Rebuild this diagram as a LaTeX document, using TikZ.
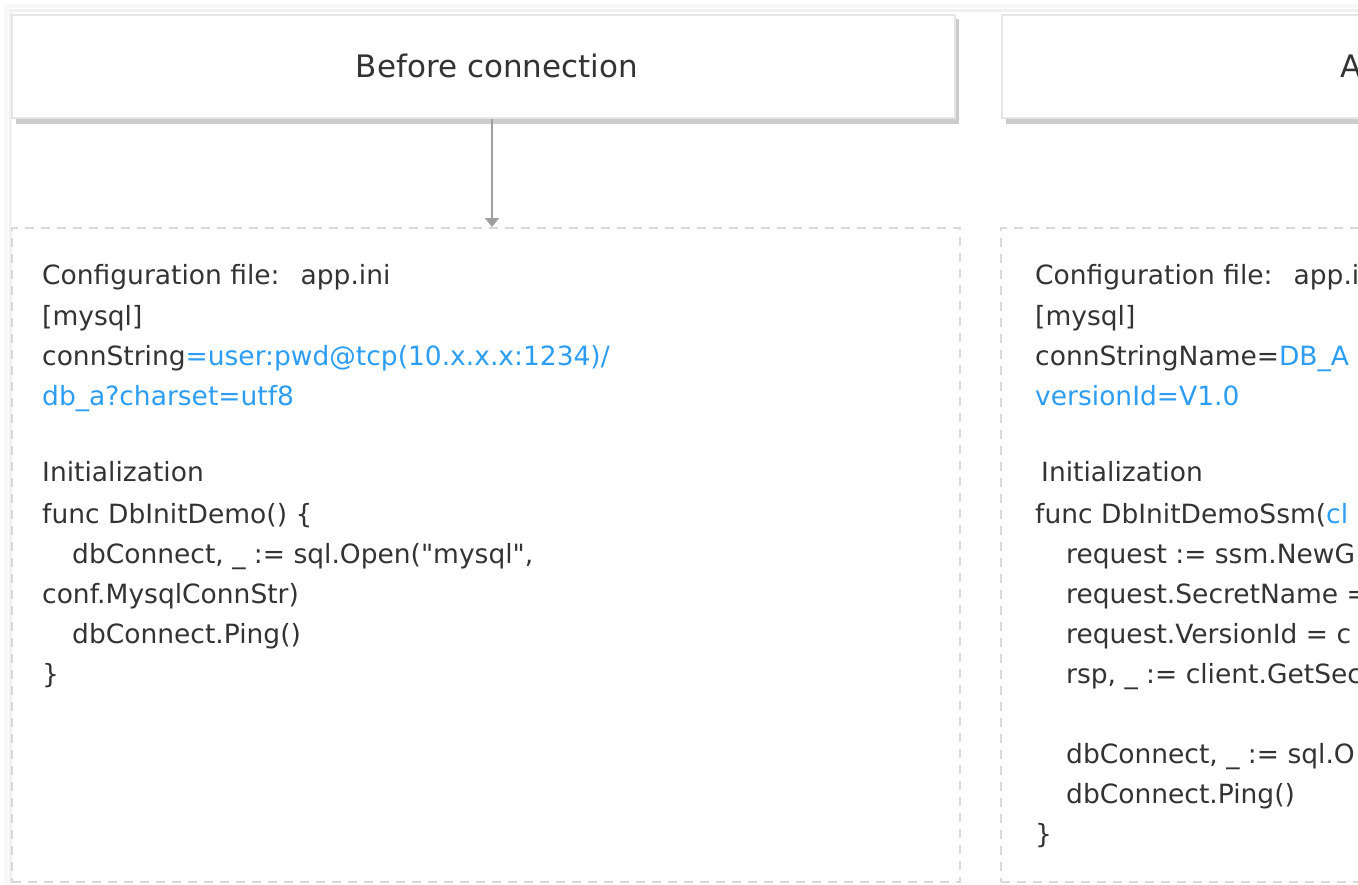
\documentclass[tikz,border=0pt]{standalone}
\usepackage{fontspec}
\setmainfont{DejaVu Sans}[Ligatures=TeXOff]
\usetikzlibrary{arrows.meta}
\definecolor{txt}{HTML}{333333}
\definecolor{blu}{HTML}{2C9DF2}
\definecolor{dash}{HTML}{D9D9D9}
\definecolor{hdrline}{HTML}{E6E6E6}
\definecolor{shad}{HTML}{CCCCCC}
\definecolor{arrc}{HTML}{A0A0A0}
\tikzset{
  hdr/.style={draw=hdrline, line width=1.2pt, fill=white, minimum width=943pt, minimum height=103pt, inner sep=0pt},
  hdrtext/.style={inner sep=0pt, text=txt, font=\fontsize{31}{36}\selectfont},
  dbox/.style={draw=dash, line width=2pt, dash pattern=on 9pt off 7pt, minimum width=948pt, minimum height=654pt, inner sep=0pt},
  ln/.style={anchor=base west, inner sep=0pt, text=txt, font=\fontsize{26.5}{30}\selectfont},
  arr/.style={draw=arrc, line width=2.4pt, -{Triangle[width=14pt,length=9pt]}},
}
\begin{document}
\begin{tikzpicture}[x=1pt,y=-1pt]
\useasboundingbox (0,0) rectangle (1358,884);
\clip (0,0) rectangle (1358,884);
% faint outer frame
\draw[color=black!6, line width=3pt] (10,884) -- (10,10) -- (1358,10);
\draw[color=black!3, line width=4pt] (6,884) -- (6,6) -- (1358,6);
% header shadows
\fill[shad] (16,19) rectangle (959,124);
\fill[shad] (1006,19) rectangle (1952,124);
% headers
\node[hdr] (hdrL) at (483.5,66.5) {};
\node[hdr] (hdrR) at (1473.5,66.5) {};
\node[hdrtext] (hdrLt) at (497,66) {Before connection};
\node[hdrtext, anchor=west] (hdrRt) at (1340,66) {After connection};
% dashed boxes
\node[dbox] (boxL) at (486,555) {};
\node[dbox] (boxR) at (1475,555) {};
% arrow
\draw[arr] (hdrL.south -| 492,0) -- (boxL.north -| 492,0);
% left text
\node[ln] (l1) at (42,284) {Configuration file:\hspace{21pt}app.ini};
\node[ln] (l2) at (42,325) {[mysql]};
\node[ln] (l3) at (42,365) {connString\textcolor{blu}{=user:pwd@tcp(10.x.x.x:1234)/}};
\node[ln,text=blu] (l4) at (42,405) {db\_a?charset=utf8};
\node[ln] (l5) at (42,481) {Initialization};
\node[ln] (l6) at (42,523) {func DbInitDemo() \{};
\node[ln] (l7) at (72,563) {dbConnect, \_ := sql.Open("mysql",};
\node[ln] (l8) at (42,603) {conf.MysqlConnStr)};
\node[ln] (l9) at (72,643) {dbConnect.Ping()};
\node[ln] (l10) at (42,683) {\}};
% right text
\node[ln] (r1) at (1035,284) {Configuration file:\hspace{21pt}app.ini};
\node[ln] (r2) at (1035,325) {[mysql]};
\node[ln] (r3) at (1035,365) {connStringName=\textcolor{blu}{DB\_A}};
\node[ln,text=blu] (r4) at (1035,405) {versionId=V1.0};
\node[ln] (r5) at (1041,481) {Initialization};
\node[ln] (r6) at (1035,523) {func DbInitDemoSsm(\textcolor{blu}{cl}};
\node[ln] (r7) at (1066,563) {request := ssm.NewG};
\node[ln] (r8) at (1066,603) {request.SecretName =};
\node[ln] (r9) at (1066,643) {request.VersionId = c};
\node[ln] (r10) at (1066,683) {rsp, \_ := client.GetSec};
\node[ln] (r11) at (1066,763) {dbConnect, \_ := sql.O};
\node[ln] (r12) at (1066,803) {dbConnect.Ping()};
\node[ln] (r13) at (1035,843) {\}};
\end{tikzpicture}
\end{document}
